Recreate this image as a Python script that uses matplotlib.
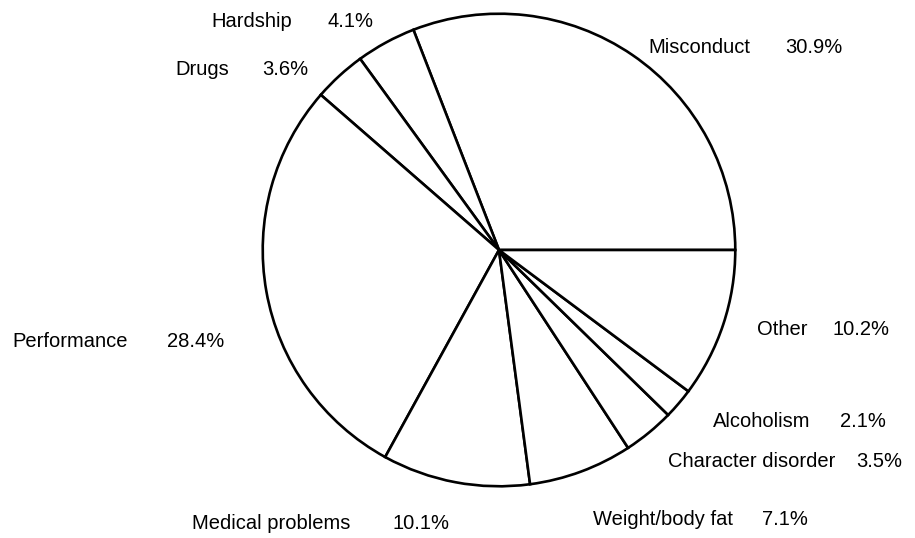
#!/usr/bin/env python3
"""Pie chart of discharge reasons (recreated)."""

import matplotlib

matplotlib.use("Agg")
import matplotlib.pyplot as plt

plt.rcParams["font.family"] = ["Liberation Sans", "DejaVu Sans"]

# counterclockwise from 3 o'clock
categories = [
    "Misconduct",
    "Hardship",
    "Drugs",
    "Performance",
    "Medical problems",
    "Weight/body fat",
    "Character disorder",
    "Alcoholism",
    "Other",
]
shares = [30.9, 4.1, 3.6, 28.4, 10.1, 7.1, 3.5, 2.1, 10.2]

W, H = 915, 538

# label anchors in pixels: (name x, percent x, baseline y)
label_pos = {
    "Misconduct": (648, 785, 53),
    "Hardship": (211, 327, 27),
    "Drugs": (175, 262, 75),
    "Performance": (12, 167, 347),
    "Medical problems": (192, 392, 529),
    "Weight/body fat": (593, 762, 525),
    "Character disorder": (668, 856, 467),
    "Alcoholism": (713, 840, 427),
    "Other": (757, 833, 335),
}


def main() -> int:
    fig = plt.figure(figsize=(W / 100, H / 100), dpi=100)
    cx, cy, r = 499, 250, 241
    ax = fig.add_axes([(cx - r) / W, (H - cy - r) / H, 2 * r / W, 2 * r / H])
    ax.pie(
        shares,
        startangle=0,
        counterclock=True,
        radius=1.0,
        wedgeprops=dict(facecolor="white", edgecolor="black", linewidth=1.9),
    )
    ax.set_xlim(-1.02, 1.02)
    ax.set_ylim(-1.02, 1.02)
    ax.set_aspect("equal")
    ax.axis("off")

    for name, val in zip(categories, shares):
        xn, xp, yb = label_pos[name]
        fig.text(xn / W, 1 - yb / H, name, ha="left", va="baseline", fontsize=14.5)
        fig.text(xp / W, 1 - yb / H, f"{val:.1f}%", ha="left", va="baseline", fontsize=14.5)

    fig.savefig("out.png", dpi=100, facecolor="white")
    return 0


if __name__ == "__main__":
    raise SystemExit(main())
